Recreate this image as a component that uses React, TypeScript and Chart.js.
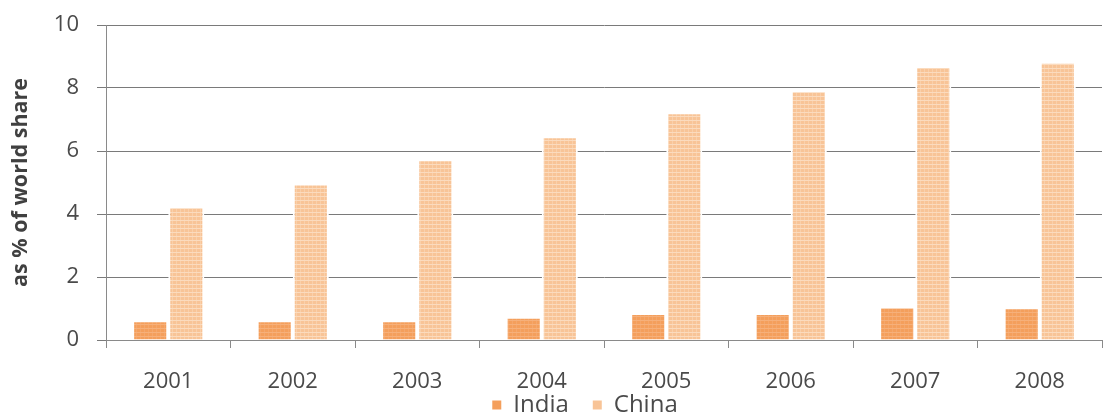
import React, { useEffect, useRef } from 'react';
import { Chart, registerables } from 'chart.js';

Chart.register(...registerables);

const categories = ['2001', '2002', '2003', '2004', '2005', '2006', '2007', '2008'];
const indiaShare = [0.63, 0.63, 0.63, 0.74, 0.86, 0.86, 1.06, 1.04];
const chinaShare = [4.25, 4.97, 5.74, 6.47, 7.23, 7.93, 8.7, 8.83];
const yTickValues = [0, 2, 4, 6, 8, 10];
const axisTitle = 'as % of world share';

const FONT = '"Open Sans", Lato, sans-serif';

function makePattern(base: string, line: string, step: number): CanvasPattern | string {
  const c = document.createElement('canvas');
  c.width = step;
  c.height = step;
  const ctx = c.getContext('2d');
  if (!ctx) return base;
  ctx.fillStyle = base;
  ctx.fillRect(0, 0, step, step);
  ctx.fillStyle = line;
  ctx.fillRect(0, 0, step, 1);
  ctx.globalAlpha = 0.5;
  ctx.fillRect(0, 0, 1, step);
  const p = ctx.createPattern(c, 'repeat');
  return p || base;
}

export default function App() {
  const canvasRef = useRef<HTMLCanvasElement | null>(null);

  useEffect(() => {
    document.body.style.margin = '0';
    const canvas = canvasRef.current;
    if (!canvas) return;
    const chinaFill = makePattern('#F8C497', '#FBDBBE', 4);
    const indiaFill = makePattern('#F49F5C', '#F6B07A', 4);

    const legendShift = {
      id: 'legendShift',
      afterLayout(chart: any) {
        const lg = chart.legend;
        if (lg) {
          lg.left += 34;
          lg.right += 34;
          lg.top = 369;
          lg.bottom = chart.height;
          lg.height = lg.bottom - lg.top;
        }
      },
    };

    const chart = new Chart(canvas, {
      type: 'bar',
      data: {
        labels: categories,
        datasets: [
          {
            label: 'India',
            data: indiaShare,
            backgroundColor: indiaFill as any,
            borderColor: '#ffffff',
            borderWidth: 2,
            borderSkipped: 'bottom',
          },
          {
            label: 'China',
            data: chinaShare,
            backgroundColor: chinaFill as any,
            borderColor: '#ffffff',
            borderWidth: 2,
            borderSkipped: 'bottom',
          },
        ],
      },
      options: {
        animation: false,
        responsive: true,
        maintainAspectRatio: false,
        layout: { padding: { top: 25, right: 1, left: 0, bottom: 0 } },
        datasets: { bar: { categoryPercentage: 0.58, barPercentage: 1 } },
        plugins: {
          tooltip: { enabled: false },
          legend: {
            position: 'bottom',
            maxHeight: 18,
            labels: {
              boxWidth: 9,
              boxHeight: 9,
              padding: 24,
              color: '#4a4a4a',
              font: { family: FONT, size: 24 },
              generateLabels: (ch: any) =>
                ch.data.datasets.map((d: any, i: number) => ({
                  text: d.label,
                  fillStyle: i === 0 ? '#F49F5C' : '#F8C497',
                  strokeStyle: 'rgba(0,0,0,0)',
                  lineWidth: 0,
                  hidden: false,
                  datasetIndex: i,
                  fontColor: '#4a4a4a',
                })),
            },
          },
        },
        scales: {
          x: {
            afterFit: (s: any) => {
              s.height = 56;
            },
            grid: {
              display: true,
              drawOnChartArea: false,
              drawTicks: true,
              tickLength: 8,
              color: '#8a8a8a',
            },
            border: { display: true, color: '#8a8a8a', width: 1 },
            ticks: {
              color: '#4a4a4a',
              padding: 21,
              font: { family: FONT, size: 22 },
            },
          },
          y: {
            min: 0,
            max: 10,
            afterFit: (s: any) => {
              s.width = 106;
              s.paddingTop = 12;
              s.paddingBottom = 12;
            },
            afterBuildTicks: (s: any) => {
              s.ticks = yTickValues.map((v) => ({ value: v }));
            },
            grid: {
              color: '#7a7a7a',
              tickLength: 9,
              drawTicks: true,
            },
            border: { display: true, color: '#8a8a8a', width: 1 },
            ticks: {
              color: '#4a4a4a',
              padding: 18,
              font: { family: FONT, size: 22 },
            },
            title: {
              display: true,
              text: axisTitle,
              color: '#404040',
              padding: { top: 8, bottom: 0 },
              font: { family: FONT, size: 21.5, weight: 'bold' },
            },
          },
        },
      },
      plugins: [legendShift],
    });

    return () => {
      chart.destroy();
    };
  }, []);

  return (
    <div style={{ width: '1103px', height: '414px', position: 'relative' }}>
      <canvas ref={canvasRef} />
    </div>
  );
}
